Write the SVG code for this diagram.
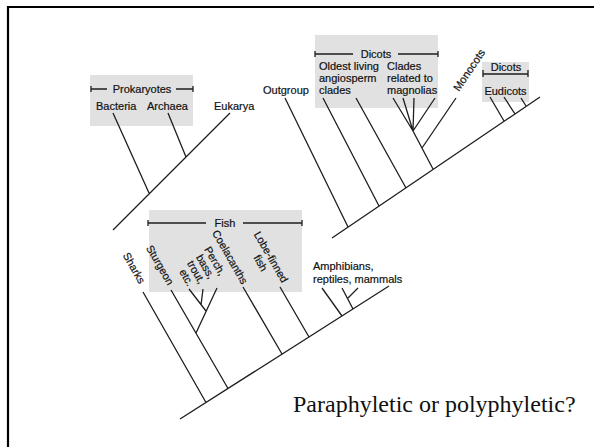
<svg xmlns="http://www.w3.org/2000/svg" width="594" height="447" viewBox="0 0 594 447">
<style>
.box{fill:#e1e1e1}
.br{stroke:#1e1e1e;stroke-width:1.3;fill:none}
.t{font-family:"Liberation Sans",Arial,sans-serif;font-size:11px;fill:#111;stroke:#111;stroke-width:0.2}
.r{font-family:"Liberation Sans",Arial,sans-serif;font-size:10.8px;fill:#111;stroke:#111;stroke-width:0.2;text-anchor:middle}
.c{text-anchor:middle}
.q{font-family:"Liberation Serif","Times New Roman",serif;font-size:24px;fill:#111}
</style>
<rect width="594" height="447" fill="#fff"/>
<path d="M8,447 V7 H594" stroke="#000" stroke-width="2.2" fill="none"/>

<g id="prokaryotes">
<rect class="box" x="90" y="75" width="103" height="51"/>
<path class="br" d="M91,86 V92 M91,89 H107 M176,89 H193 M193,86 V92"/>
<text class="t c" x="142" y="93">Prokaryotes</text>
</g>
<g id="bacteria"><text class="t" x="96" y="110">Bacteria</text></g>
<g id="archaea"><text class="t" x="147" y="110">Archaea</text></g>
<g id="eukarya"><text class="t" x="214" y="110">Eukarya</text></g>

<g id="outgroup"><text class="t" x="263" y="94">Outgroup</text></g>
<g id="dicots-basal">
<rect class="box" x="315" y="35" width="123" height="73"/>
<path class="br" d="M315,51 V57 M315,54 H353 M398,54 H438 M438,51 V57"/>
<text class="t c" x="376" y="58">Dicots</text>
</g>
<g id="oldest-living"><text class="t" x="319" y="70">Oldest living</text><text class="t" x="319" y="82">angiosperm</text><text class="t" x="319" y="94">clades</text></g>
<g id="magnolias"><text class="t" x="387" y="70">Clades</text><text class="t" x="387" y="82">related to</text><text class="t" x="387" y="94">magnolias</text></g>
<g id="monocots"><text class="t c" transform="translate(469,70) rotate(-56)" y="4">Monocots</text></g>
<g id="eudicots">
<rect class="box" x="482" y="62" width="47" height="40"/>
<path class="br" d="M483,70 V77 M483,74 H528 M528,70 V77"/>
<text class="t c" x="506" y="71">Dicots</text>
<text class="t c" x="505.5" y="95">Eudicots</text>
</g>

<g id="fish">
<rect class="box" x="149" y="210" width="153" height="82"/>
<path class="br" d="M148,220 V226 M148,223 H206 M243,223 H302 M302,220 V226"/>
<text class="t c" x="225" y="227">Fish</text>
</g>
<g id="sharks"><text class="r" transform="translate(134,268) rotate(60)" y="3.7">Sharks</text></g>
<g id="sturgeon"><text class="r" transform="translate(160,265) rotate(60)" y="3.7">Sturgeon</text></g>
<g id="perch">
<text class="r" transform="translate(215,261) rotate(60)" y="3.7">Perch,</text>
<text class="r" transform="translate(205.5,266.5) rotate(60)" y="3.7">bass,</text>
<text class="r" transform="translate(196,272) rotate(60)" y="3.7">trout,</text>
<text class="r" transform="translate(186.5,277.5) rotate(60)" y="3.7">etc.</text>
</g>
<g id="coelacanths"><text class="r" transform="translate(230,257) rotate(60)" y="3.7">Coelacanths</text></g>
<g id="lobe-finned">
<text class="r" transform="translate(271,257) rotate(60)" y="3.7">Lobe-finned</text>
<text class="r" transform="translate(260.6,263) rotate(60)" y="3.7">fish</text>
</g>
<g id="tetrapods"><text class="t" x="313" y="270">Amphibians,</text><text class="t" x="313" y="283">reptiles, mammals</text></g>

<g id="connectors" class="br">
<path d="M113,230 L230,113 M113,113 L149,193 M168,113 L186,157"/>
<path d="M332,238 L540,97 M285,98 L348,227 M323,98 L379,206 M356,98 L406,188 M413,131 L433,169 M393,98 L413,131 M403,98 L413,131 M414,98 L413,131 M435,98 L413,131 M456,98 L422,148 M490,97 L504,121 M504,97 L515,114 M521,98 L526,106"/>
<path d="M180,419 L389,286 M143,292 L206,402.5 M171,290 L228,388.5 M217,288 L196,333 M189,289 L206,311 M203,289 L201,305 M243,287 L282,354 M280,287 L309,337 M322,288 L342,316 M342,288 L353,309 M358,288 L348,298"/>
</g>

<g id="question"><text class="q" x="293" y="412">Paraphyletic or polyphyletic?</text></g>
</svg>
